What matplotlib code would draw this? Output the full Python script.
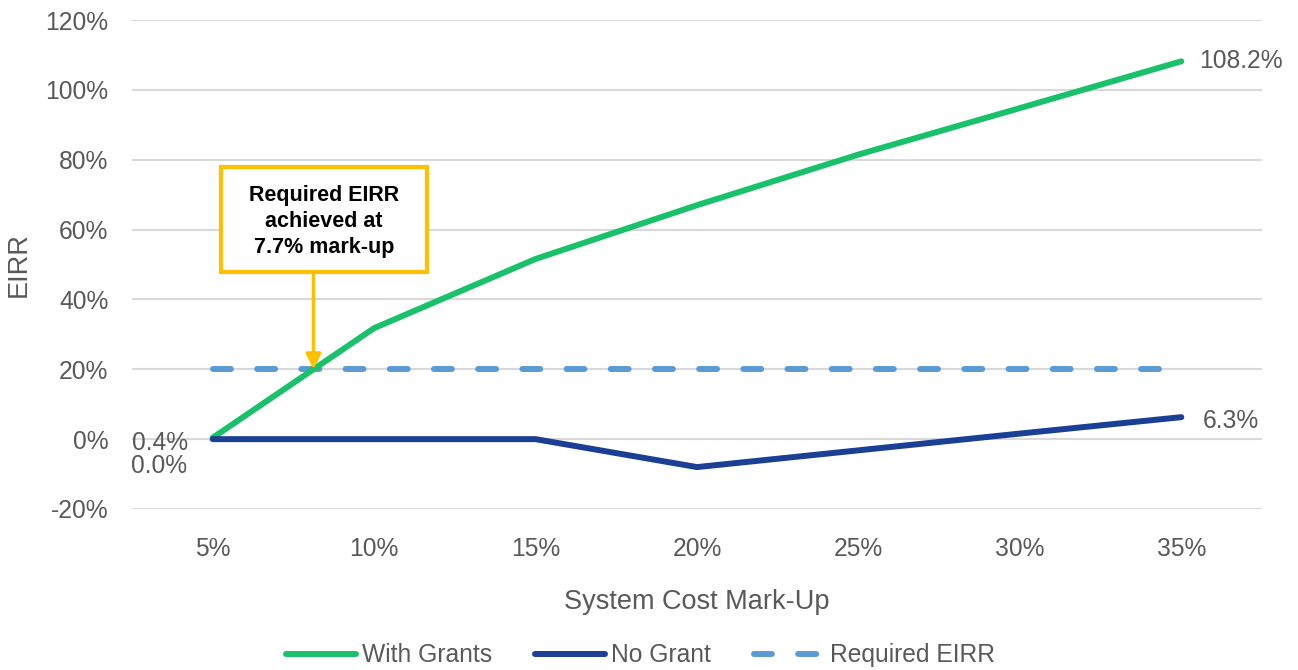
import numpy as np
import matplotlib.pyplot as plt
from matplotlib.patches import Rectangle
from matplotlib.ticker import FuncFormatter

plt.rcParams['font.family'] = ['Liberation Sans', 'DejaVu Sans']

# data
markups = ["5%", "10%", "15%", "20%", "25%", "30%", "35%"]
with_grants = [0.4, 31.8, 51.6, 67.0, 81.5, 94.8, 108.2]
no_grant = [0.0, 0.0, 0.0, -8.0, -3.2, 1.6, 6.3]
required_eirr = [20, 20, 20, 20, 20, 20, 20]
yticks = [-20, 0, 20, 40, 60, 80, 100, 120]

GREEN = "#19C16A"
NAVY = "#1B3F94"
LIGHT = "#5B9BD5"
AMBER = "#FFC000"
GREY = "#595959"
FS = 17.7

fig = plt.figure(figsize=(12.98, 6.70), dpi=100)
ax = fig.add_axes([0.1017, 0.2403, 0.8706, 0.7297])

x = np.arange(len(markups))
ax.plot(x, with_grants, color=GREEN, lw=4.3, solid_capstyle="round", label="With Grants", zorder=4)
ax.plot(x, no_grant, color=NAVY, lw=4.3, solid_capstyle="round", label="No Grant", zorder=4)
ax.plot(x, required_eirr, color=LIGHT, lw=4.3, dashes=(3.0, 4.4), dash_capstyle="round",
        label="Required EIRR", zorder=3)

ax.set_xlim(-0.5, len(markups) - 0.5)
ax.set_ylim(-20, 120)
ax.set_yticks(yticks)
ax.yaxis.set_major_formatter(FuncFormatter(lambda v, p: f"{v:.0f}%"))
ax.set_xticks(x)
ax.set_xticklabels(markups)
ax.grid(axis="y", color="#D9D9D9", lw=1.5)
ax.set_axisbelow(True)
for s in ax.spines.values():
    s.set_visible(False)
ax.tick_params(axis="both", length=0, labelsize=FS, colors=GREY)
ax.tick_params(axis="y", pad=17)
ax.tick_params(axis="x", pad=20)
ax.set_xlabel("System Cost Mark-Up", fontsize=19.5, color=GREY, labelpad=20)
ax.set_ylabel("EIRR", fontsize=19.5, color=GREY, labelpad=10)

# start / end labels
ax.text(x[0] - 0.15, with_grants[0] - 1.5, f"{with_grants[0]:.1f}%", ha="right", va="center",
        fontsize=FS, color=GREY)
ax.text(x[0] - 0.16, no_grant[0] - 7.6, f"{no_grant[0]:.1f}%", ha="right", va="center",
        fontsize=FS, color=GREY)
ax.text(x[-1] + 0.11, with_grants[-1], f"{with_grants[-1]:.1f}%", ha="left", va="center",
        fontsize=FS, color=GREY)
ax.text(x[-1] + 0.13, no_grant[-1] - 1.2, f"{no_grant[-1]:.1f}%", ha="left", va="center",
        fontsize=FS, color=GREY)

# callout: where green line reaches required EIRR
box_x0, box_x1, box_y0, box_y1 = 0.05, 1.33, 47.8, 78.0
xc = np.interp(required_eirr[0], with_grants[:2], x[:2])
ax.annotate("", xy=(xc, required_eirr[0]), xytext=(xc, box_y0),
            arrowprops=dict(arrowstyle="-|>,head_width=0.45,head_length=0.9",
                            color=AMBER, lw=2.5, shrinkA=0, shrinkB=0), zorder=5)
ax.add_patch(Rectangle((box_x0, box_y0), box_x1 - box_x0, box_y1 - box_y0,
                       fc="white", ec=AMBER, lw=3, zorder=6))
ax.text((box_x0 + box_x1) / 2, (box_y0 + box_y1) / 2 - 0.6, "Required EIRR\nachieved at\n7.7% mark-up",
        ha="center", va="center", fontsize=15.5, fontweight="bold", color="black",
        linespacing=1.33, zorder=7)

fig.legend(loc="center", bbox_to_anchor=(0.4935, 0.022), ncol=3, frameon=False,
           fontsize=FS, labelcolor=GREY, handlelength=2.85, handletextpad=0.25,
           columnspacing=1.75)

fig.savefig("out.png", dpi=100)
